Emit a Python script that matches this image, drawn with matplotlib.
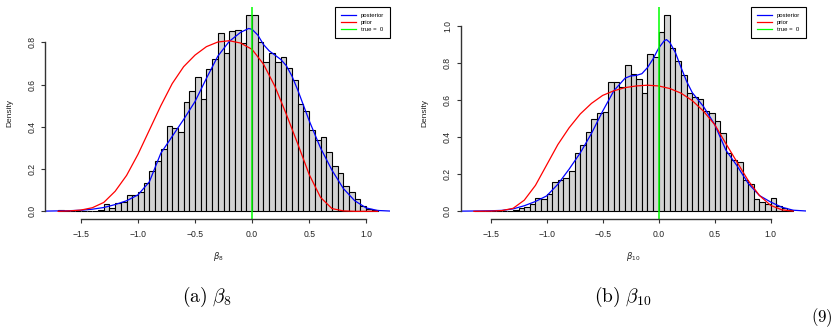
import numpy as np
import matplotlib
matplotlib.use("Agg")
import matplotlib.pyplot as plt
from matplotlib.lines import Line2D

# ---- histogram data (bin width 0.05) ----
b8_breaks = np.round(np.arange(-1.70, 1.1001, 0.05), 2)
b8_heights = [0.005, 0.0, 0.0, 0.0, 0.0, 0.0, 0.0, 0.008,
              0.033, 0.014, 0.038, 0.046, 0.077, 0.077, 0.093, 0.136, 0.19, 0.237,
              0.293, 0.402, 0.393, 0.374, 0.52, 0.568, 0.637, 0.533, 0.672, 0.722,
              0.847, 0.752, 0.852, 0.861, 0.795, 0.93,
              0.932, 0.80, 0.708, 0.748, 0.708, 0.73, 0.68, 0.62, 0.506, 0.473,
              0.383, 0.336, 0.353, 0.282, 0.215, 0.18, 0.121, 0.093, 0.057, 0.027,
              0.011, 0.006]

b10_breaks = np.round(np.arange(-1.65, 1.2001, 0.05), 2)
b10_heights = [0.004, 0.0, 0.0, 0.0, 0.0, 0.0, 0.002,
               0.007, 0.016, 0.025, 0.04, 0.072, 0.065, 0.095, 0.156, 0.169, 0.178,
               0.215, 0.312, 0.357, 0.429, 0.496, 0.531, 0.537, 0.70, 0.695, 0.668,
               0.788, 0.743, 0.716, 0.636, 0.846, 0.833,
               0.968, 1.061, 0.883, 0.808, 0.733, 0.636, 0.614, 0.603, 0.54, 0.528,
               0.485, 0.425, 0.312, 0.275, 0.264, 0.169, 0.149, 0.068, 0.05, 0.04,
               0.074, 0.03, 0.016, 0.009]

# ---- density curves ----
b8_post_x = [-1.82, -1.70, -1.60, -1.50, -1.40, -1.30, -1.20, -1.10, -1.00, -0.90,
             -0.80, -0.70, -0.60, -0.50, -0.40, -0.30, -0.20, -0.10, -0.03, 0.00,
             0.05, 0.10, 0.15, 0.20, 0.25, 0.30, 0.35, 0.40, 0.50, 0.60, 0.70,
             0.80, 0.90, 1.00, 1.10, 1.22]
b8_post_y = [0.001, 0.002, 0.003, 0.005, 0.01, 0.018, 0.032, 0.05, 0.078, 0.14,
             0.275, 0.355, 0.435, 0.52, 0.63, 0.735, 0.805, 0.848, 0.866, 0.862,
             0.835, 0.79, 0.76, 0.74, 0.72, 0.69, 0.64, 0.575, 0.43, 0.30, 0.195,
             0.108, 0.05, 0.016, 0.004, 0.001]
b8_prior_x = [-1.70, -1.60, -1.50, -1.40, -1.30, -1.20, -1.10, -1.00, -0.90, -0.80,
              -0.70, -0.60, -0.50, -0.40, -0.30, -0.20, -0.10, 0.00, 0.10, 0.20,
              0.30, 0.40, 0.50, 0.60, 0.70, 0.80, 0.90, 1.00, 1.10]
b8_prior_y = [0.0, 0.002, 0.006, 0.017, 0.042, 0.095, 0.17, 0.27, 0.385, 0.50,
              0.605, 0.685, 0.74, 0.78, 0.802, 0.808, 0.797, 0.767, 0.697, 0.592,
              0.46, 0.32, 0.175, 0.066, 0.013, 0.002, 0.0, 0.0, 0.0]

b10_post_x = [-1.76, -1.60, -1.50, -1.40, -1.30, -1.20, -1.10, -1.00, -0.90, -0.80,
              -0.70, -0.60, -0.50, -0.40, -0.30, -0.25, -0.20, -0.15, -0.10, -0.05,
              0.00, 0.05, 0.07, 0.10, 0.15, 0.20, 0.25, 0.30, 0.40, 0.50, 0.60,
              0.70, 0.80, 0.90, 1.00, 1.10, 1.20, 1.31]
b10_post_y = [0.001, 0.002, 0.003, 0.005, 0.013, 0.03, 0.053, 0.083, 0.146, 0.227,
              0.315, 0.42, 0.54, 0.65, 0.718, 0.73, 0.733, 0.742, 0.775, 0.822,
              0.88, 0.92, 0.926, 0.91, 0.855, 0.775, 0.70, 0.64, 0.565, 0.468, 0.33,
              0.245, 0.15, 0.085, 0.05, 0.022, 0.006, 0.002]
b10_prior_x = [-1.65, -1.50, -1.40, -1.30, -1.20, -1.10, -1.00, -0.90, -0.80, -0.70,
               -0.60, -0.50, -0.40, -0.30, -0.20, -0.10, 0.00, 0.10, 0.20, 0.30,
               0.40, 0.50, 0.60, 0.70, 0.80, 0.90, 1.00, 1.10, 1.20]
b10_prior_y = [0.0, 0.001, 0.004, 0.016, 0.06, 0.14, 0.25, 0.36, 0.45, 0.525,
               0.582, 0.625, 0.65, 0.667, 0.676, 0.68, 0.676, 0.662, 0.637, 0.597,
               0.54, 0.468, 0.365, 0.265, 0.165, 0.085, 0.032, 0.008, 0.001]

true_value = 0.0
x_ticks = [-1.5, -1.0, -0.5, 0.0, 0.5, 1.0]
b8_yticks = [0.0, 0.2, 0.4, 0.6, 0.8]
b10_yticks = [0.0, 0.2, 0.4, 0.6, 0.8, 1.0]

plt.rcParams["font.family"] = ["Liberation Sans", "DejaVu Sans"]
plt.rcParams["axes.unicode_minus"] = True


def r_hist_panel(ax, breaks, heights, post_x, post_y, prior_x, prior_y,
                 yticks, xlabel):
    """R-style hist(freq=FALSE) with posterior/prior density lines."""
    ax.bar(breaks[:-1], heights, width=np.diff(breaks), align="edge",
           color="#D3D3D3", edgecolor="black", linewidth=0.8)
    ax.plot(post_x, post_y, color="blue", lw=0.9)
    ax.plot(prior_x, prior_y, color="red", lw=0.9)
    ax.axvline(true_value, color="#00FF00", lw=1.1)

    # R pads the range by 4% on each side
    xr = breaks[-1] - breaks[0]
    ax.set_xlim(breaks[0] - 0.04 * xr, breaks[-1] + 0.04 * xr)
    ymax = max(heights)
    ax.set_ylim(-0.04 * ymax, 1.04 * ymax)

    for s in ["top", "right"]:
        ax.spines[s].set_visible(False)
    ax.spines["left"].set_bounds(yticks[0], yticks[-1])
    ax.spines["bottom"].set_bounds(x_ticks[0], x_ticks[-1])
    for s in ["left", "bottom"]:
        ax.spines[s].set_color("#333333")
        ax.spines[s].set_linewidth(1.0)

    ax.set_xticks(x_ticks)
    ax.set_xticklabels([f"{t:.1f}".replace("-", "\u2212") for t in x_ticks])
    ax.set_yticks(yticks)
    ax.set_yticklabels([f"{t:.1f}" for t in yticks], rotation=90, va="center")
    ax.tick_params(length=3, width=0.8, color="#333333", labelsize=6.2,
                   labelcolor="#222222")
    ax.tick_params(axis="x", pad=4.5)
    ax.tick_params(axis="y", pad=3.5)

    ax.set_ylabel("Density", fontsize=6, color="#222222")
    ax.yaxis.set_label_coords(-0.094, 0.5)
    ax.set_xlabel(xlabel, fontsize=6, color="#222222")
    ax.xaxis.set_label_coords(0.5, -0.145)

    handles = [Line2D([], [], color="blue", lw=0.9),
               Line2D([], [], color="red", lw=0.9),
               Line2D([], [], color="#00FF00", lw=0.9)]
    leg = ax.legend(handles, ["posterior", "prior", "true =  0"],
                    loc="upper right", fontsize=4.3, fancybox=False,
                    edgecolor="black", framealpha=1, borderaxespad=0,
                    handlelength=2.5, handletextpad=0.8, borderpad=1.0,
                    labelspacing=0.32)
    leg.get_frame().set_linewidth(0.8)


fig = plt.figure(figsize=(8.35, 3.31), dpi=100)
ax1 = fig.add_axes([0.0543, 0.3378, 0.4132, 0.642])
ax2 = fig.add_axes([0.5522, 0.3378, 0.4129, 0.642])

r_hist_panel(ax1, b8_breaks, b8_heights, b8_post_x, b8_post_y,
             b8_prior_x, b8_prior_y, b8_yticks, r"$\beta_8$")
r_hist_panel(ax2, b10_breaks, b10_heights, b10_post_x, b10_post_y,
             b10_prior_x, b10_prior_y, b10_yticks, r"$\beta_{10}$")

# subfigure captions (LaTeX look)
fig.text(0.248, 0.104, r"$\mathrm{(a)}\ \beta_8$", fontsize=14,
         math_fontfamily="cm", ha="center", va="center")
fig.text(0.746, 0.104, r"$\mathrm{(b)}\ \beta_{10}$", fontsize=14,
         math_fontfamily="cm", ha="center", va="center")
fig.text(0.971, 0.006, r"$\mathrm{(9)}$", fontsize=12, math_fontfamily="cm",
         ha="left", va="bottom")

fig.savefig("out.png", dpi=100)
